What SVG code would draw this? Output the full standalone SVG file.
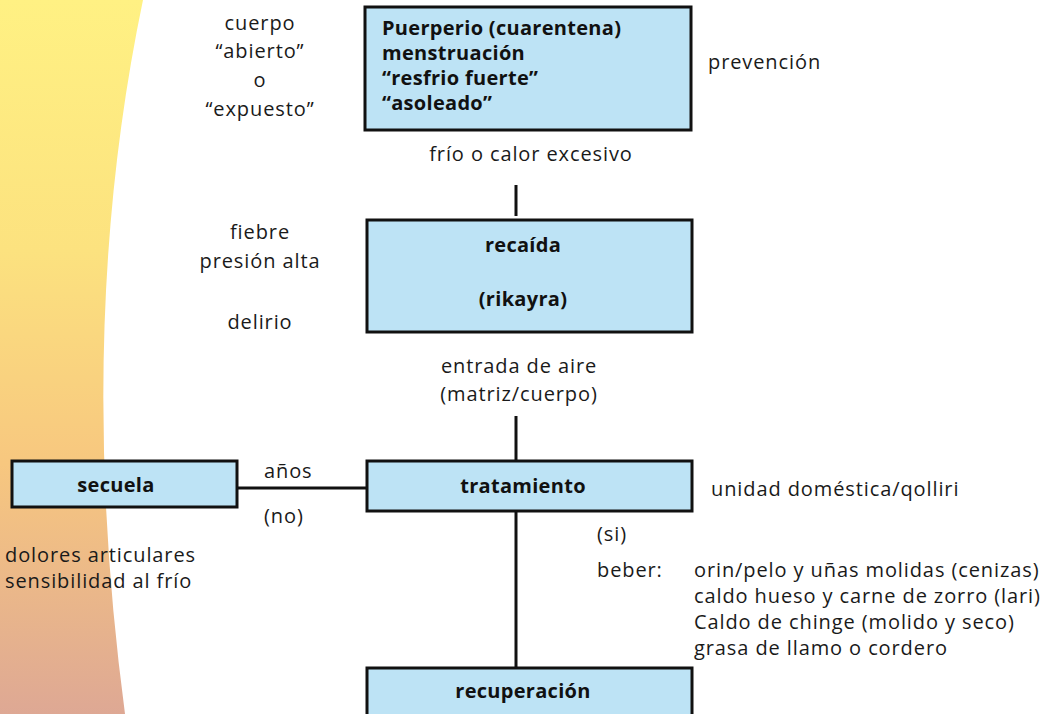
<svg xmlns="http://www.w3.org/2000/svg" width="1050" height="714" viewBox="0 0 1050 714">
<defs>
<linearGradient id="bg" x1="0" y1="0" x2="0" y2="1">
<stop offset="0" stop-color="#FFF183"/>
<stop offset="0.35" stop-color="#FCE27F"/>
<stop offset="0.65" stop-color="#F7C77F"/>
<stop offset="1" stop-color="#DEA894"/>
</linearGradient>
<style>
.box{fill:#BDE3F5;stroke:#111;stroke-width:3}
.t{font-family:"Open Sans",Lato,sans-serif;font-size:20px;letter-spacing:0.9px;fill:#1a1a1a}
.b{font-family:"Open Sans",Lato,sans-serif;font-size:20px;letter-spacing:0.3px;font-weight:bold;fill:#111}
.c{text-anchor:middle}
.ln{stroke:#111;stroke-width:3;fill:none}
</style>
</defs>
<path d="M0,0 L143,0 Q74,330 125,714 L0,714 Z" fill="url(#bg)"/>
<g id="connectors">
<line class="ln" x1="516" y1="185" x2="516" y2="216"/>
<line class="ln" x1="516" y1="416" x2="516" y2="461"/>
<line class="ln" x1="516" y1="511" x2="516" y2="668"/>
<line class="ln" x1="237" y1="488" x2="367" y2="488"/>
</g>
<g id="n-causas">
<rect class="box" x="365" y="7" width="326" height="123"/>
<text class="b" x="382" y="35">Puerperio (cuarentena)</text>
<text class="b" x="382" y="60">menstruación</text>
<text class="b" x="382" y="85">“resfrio fuerte”</text>
<text class="b" x="382" y="110">“asoleado”</text>
</g>
<g id="n-recaida">
<rect class="box" x="367" y="220" width="325" height="112"/>
<text class="b c" x="523" y="252">recaída</text>
<text class="b c" x="523" y="306">(rikayra)</text>
</g>
<g id="n-tratamiento">
<rect class="box" x="367" y="461" width="325" height="50"/>
<text class="b c" x="523" y="493">tratamiento</text>
</g>
<g id="n-secuela">
<rect class="box" x="12" y="461" width="225" height="46"/>
<text class="b c" x="116" y="492">secuela</text>
</g>
<g id="n-recuperacion">
<rect class="box" x="367" y="668" width="325" height="60"/>
<text class="b c" x="523" y="698">recuperación</text>
</g>
<g id="labels">
<text class="t c" x="260" y="30">cuerpo</text>
<text class="t c" x="260" y="58">“abierto”</text>
<text class="t c" x="260" y="87">o</text>
<text class="t c" x="260" y="116">“expuesto”</text>
<text class="t" x="708" y="69">prevención</text>
<text class="t c" x="531" y="161">frío o calor excesivo</text>
<text class="t c" x="260" y="239">fiebre</text>
<text class="t c" x="260" y="268">presión alta</text>
<text class="t c" x="260" y="329">delirio</text>
<text class="t c" x="519" y="373">entrada de aire</text>
<text class="t c" x="519" y="401">(matriz/cuerpo)</text>
<text class="t" x="264" y="478">años</text>
<text class="t" x="264" y="523">(no)</text>
<text class="t" x="711" y="496">unidad doméstica/qolliri</text>
<text class="t" x="5" y="562">dolores articulares</text>
<text class="t" x="5" y="588">sensibilidad al frío</text>
<text class="t" x="597" y="541">(si)</text>
<text class="t" x="597" y="577">beber:</text>
<text class="t" x="694" y="577">orin/pelo y uñas molidas (cenizas)</text>
<text class="t" x="694" y="603">caldo hueso y carne de zorro (lari)</text>
<text class="t" x="694" y="629">Caldo de chinge (molido y seco)</text>
<text class="t" x="694" y="655">grasa de llamo o cordero</text>
</g>
</svg>
